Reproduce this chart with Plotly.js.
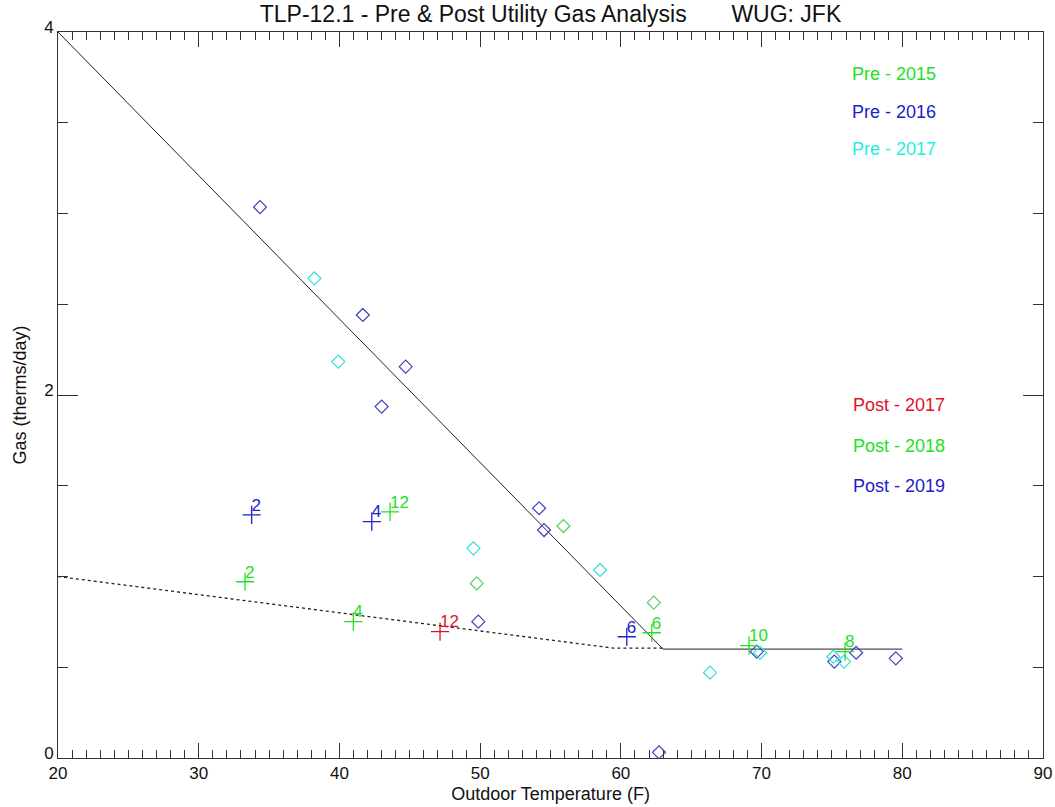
<!DOCTYPE html>
<html>
<head>
<meta charset="utf-8">
<script src="https://cdn.plot.ly/plotly-3.0.1.min.js"></script>
<style>html,body{margin:0;padding:0;background:#fff;}#chart{width:1055px;height:807px;}</style>
</head>
<body>
<div id="chart"></div>
<script>
// Pre-retrofit data (diamonds)
const pre2015X = [55.92, 49.76, 62.34];
const pre2015Y = [1.278, 0.962, 0.856];
const pre2016X = [34.36, 41.66, 44.71, 43.0, 54.19, 54.54, 49.87, 69.66, 75.17, 76.72, 79.54, 62.71];
const pre2016Y = [3.035, 2.441, 2.156, 1.936, 1.376, 1.256, 0.751, 0.586, 0.531, 0.58, 0.549, 0.031];
const pre2017X = [38.22, 39.92, 49.52, 58.52, 66.34, 69.9, 75.1, 75.86];
const pre2017Y = [2.643, 2.184, 1.155, 1.036, 0.47, 0.58, 0.558, 0.531];

// Post-retrofit data (plus signs with month labels)
const post2017X = [47.15];
const post2017Y = [0.696];
const post2017M = ["12"];
const post2018X = [33.29, 40.99, 62.2, 75.93, 69.11, 43.6];
const post2018Y = [0.971, 0.751, 0.690, 0.586, 0.619, 1.356];
const post2018M = ["2", "4", "6", "8", "10", "12"];
const post2019X = [33.76, 42.3, 60.42];
const post2019Y = [1.339, 1.302, 0.668];
const post2019M = ["2", "4", "6"];

// Fit lines
const preFitX = [20, 63, 80];
const preFitY = [4.0, 0.6, 0.6];
const postFitX = [20, 59.5, 63];
const postFitY = [1.0, 0.605, 0.605];

// Legend labels
const preNames = ["Pre - 2015", "Pre - 2016", "Pre - 2017"];
const postNames = ["Post - 2017", "Post - 2018", "Post - 2019"];

const cGreen = '#22e022', cBlue = '#2020cc', cCyan = '#22eedd', cRed = '#e0102a';
const dGreen = '#55cc66', dBlue = '#4040c0', dCyan = '#33e0d8';

function diamonds(x, y, c) {
  return {x: x, y: y, type: 'scatter', mode: 'markers', showlegend: false, hoverinfo: 'skip',
    marker: {symbol: 'diamond-open', size: 10, color: c, line: {width: 1.2, color: c}}};
}
function pluses(x, y, c) {
  return {x: x, y: y, type: 'scatter', mode: 'markers', showlegend: false, hoverinfo: 'skip',
    marker: {symbol: 'cross-thin-open', size: 13, color: c, line: {width: 1.3, color: c}}};
}
function labels(x, y, t, c) {
  return {x: x, y: y, text: t, type: 'scatter', mode: 'text', textposition: 'top right', showlegend: false, hoverinfo: 'skip',
    textfont: {family: 'Liberation Sans, Arial, sans-serif', size: 17, color: c}};
}

const traces = [
  {x: preFitX, y: preFitY, type: 'scatter', mode: 'lines', showlegend: false, hoverinfo: 'skip', line: {color: '#222', width: 1}},
  {x: postFitX, y: postFitY, type: 'scatter', mode: 'lines', showlegend: false, hoverinfo: 'skip', line: {color: '#222', width: 1.3, dash: 'dot'}},
  diamonds(pre2015X, pre2015Y, dGreen),
  diamonds(pre2016X, pre2016Y, dBlue),
  diamonds(pre2017X, pre2017Y, dCyan),
  pluses(post2017X, post2017Y, cRed),
  pluses(post2018X, post2018Y, cGreen),
  pluses(post2019X, post2019Y, cBlue),
  labels(post2017X, post2017Y, post2017M, cRed),
  labels(post2018X, post2018Y, post2018M, cGreen),
  labels(post2019X, post2019Y, post2019M, cBlue)
];

const preColors = [cGreen, cBlue, cCyan];
const postColors = [cRed, cGreen, cBlue];
const preYs = [0.942, 0.890, 0.839];
const postYs = [0.486, 0.430, 0.374];
const annotations = [];
preNames.forEach((n, i) => annotations.push({text: n, xref: 'paper', yref: 'paper', x: 0.804, y: preYs[i], xanchor: 'left', yanchor: 'middle', showarrow: false, font: {size: 18, color: preColors[i]}}));
postNames.forEach((n, i) => annotations.push({text: n, xref: 'paper', yref: 'paper', x: 0.805, y: postYs[i], xanchor: 'left', yanchor: 'middle', showarrow: false, font: {size: 18, color: postColors[i]}}));

const axisCommon = {showgrid: false, zeroline: false, showline: true, linecolor: '#333', linewidth: 1, mirror: 'allticks', ticks: 'inside', tickcolor: '#333', tickwidth: 1, tickfont: {size: 17, color: '#111'}};

const layout = {
  width: 1055, height: 807,
  margin: {l: 58, r: 12, t: 32, b: 49},
  paper_bgcolor: '#fff', plot_bgcolor: '#fff',
  font: {family: 'Liberation Sans, Arial, sans-serif', color: '#111'},
  title: {text: 'TLP-12.1 - Pre &amp; Post Utility Gas Analysis\u00a0\u00a0\u00a0\u00a0\u00a0\u00a0\u00a0WUG: JFK', font: {size: 23, color: '#111'}, xref: 'paper', x: 0.5, xanchor: 'center', yref: 'container', y: 0.983, yanchor: 'middle'},
  xaxis: Object.assign({}, axisCommon, {range: [20, 90], dtick: 10, tick0: 20, ticklen: 15,
    minor: {dtick: 1, ticks: 'inside', ticklen: 8, tickcolor: '#333', tickwidth: 1},
    title: {text: 'Outdoor Temperature (F)', font: {size: 18}, standoff: 4}}),
  yaxis: Object.assign({}, axisCommon, {range: [0, 4], dtick: 2, tick0: 0, ticklen: 20, ticklabelshift: -5,
    minor: {dtick: 0.5, ticks: 'inside', ticklen: 10, tickcolor: '#333', tickwidth: 1},
    title: {text: 'Gas (therms/day)', font: {size: 18}, standoff: 12}}),
  annotations: annotations
};

Plotly.newPlot('chart', traces, layout, {displayModeBar: false, staticPlot: true});
</script>
</body>
</html>
